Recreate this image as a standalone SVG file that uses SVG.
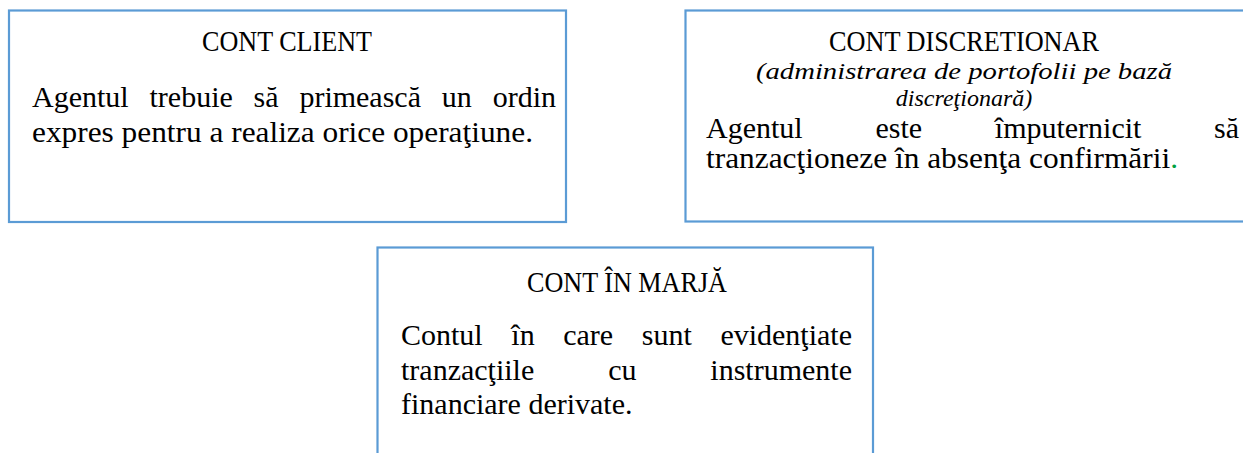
<svg xmlns="http://www.w3.org/2000/svg" width="1243" height="453" viewBox="0 0 1243 453">
<style>
.box{fill:#ffffff;stroke:#5b9bd5;stroke-width:2.2}
.t{font-family:"Liberation Serif","Times New Roman",serif;font-size:30px;fill:#000}
.h{font-family:"Liberation Serif","Times New Roman",serif;font-size:29px;fill:#000}
.it{font-family:"Liberation Serif","Times New Roman",serif;font-size:24px;font-style:italic;fill:#000}
.e{text-anchor:end}
.g{fill:#00a040}
</style>
<rect width="1243" height="453" fill="#ffffff"/>
<g id="connectors"></g>
<g id="cont-client">
<rect class="box" x="9" y="10.5" width="557" height="211.5"/>
<text class="h" x="202" y="51" textLength="170" lengthAdjust="spacingAndGlyphs">CONT CLIENT</text>
<text class="t" x="32" y="107">Agentul</text>
<text class="t" x="149.5" y="107">trebuie</text>
<text class="t" x="253.6" y="107">să</text>
<text class="t" x="299.4" y="107">primească</text>
<text class="t" x="441.8" y="107">un</text>
<text class="t e" x="556" y="107">ordin</text>
<text class="t" x="32" y="142" textLength="501" lengthAdjust="spacingAndGlyphs">expres pentru a realiza orice operaţiune.</text>
</g>
<g id="cont-discretionar">
<rect class="box" x="685.5" y="10.5" width="560" height="211"/>
<text class="h" x="829" y="51" textLength="270" lengthAdjust="spacingAndGlyphs">CONT DISCRETIONAR</text>
<text class="it" x="756" y="79" textLength="416" lengthAdjust="spacingAndGlyphs">(administrarea de portofolii pe bază</text>
<text class="it" x="964" y="106" text-anchor="middle">discreţionară)</text>
<text class="t" x="706" y="138">Agentul</text>
<text class="t" x="875.4" y="138">este</text>
<text class="t" x="994.8" y="138">împuternicit</text>
<text class="t e" x="1239" y="138">să</text>
<text class="t" x="706" y="168" textLength="472" lengthAdjust="spacingAndGlyphs">tranzacţioneze în absenţa confirmării<tspan class="g">.</tspan></text>
</g>
<g id="cont-in-marja">
<rect class="box" x="377.5" y="247.5" width="495.5" height="220"/>
<text class="h" x="527" y="292" textLength="200" lengthAdjust="spacingAndGlyphs">CONT ÎN MARJĂ</text>
<text class="t" x="401" y="345">Contul</text>
<text class="t" x="511.3" y="345">în</text>
<text class="t" x="563.2" y="345">care</text>
<text class="t" x="641.8" y="345">sunt</text>
<text class="t e" x="852" y="345">evidenţiate</text>
<text class="t" x="401" y="380">tranzacţiile</text>
<text class="t" x="608.2" y="380">cu</text>
<text class="t e" x="852" y="380">instrumente</text>
<text class="t" x="401" y="414">financiare derivate.</text>
</g>
</svg>
